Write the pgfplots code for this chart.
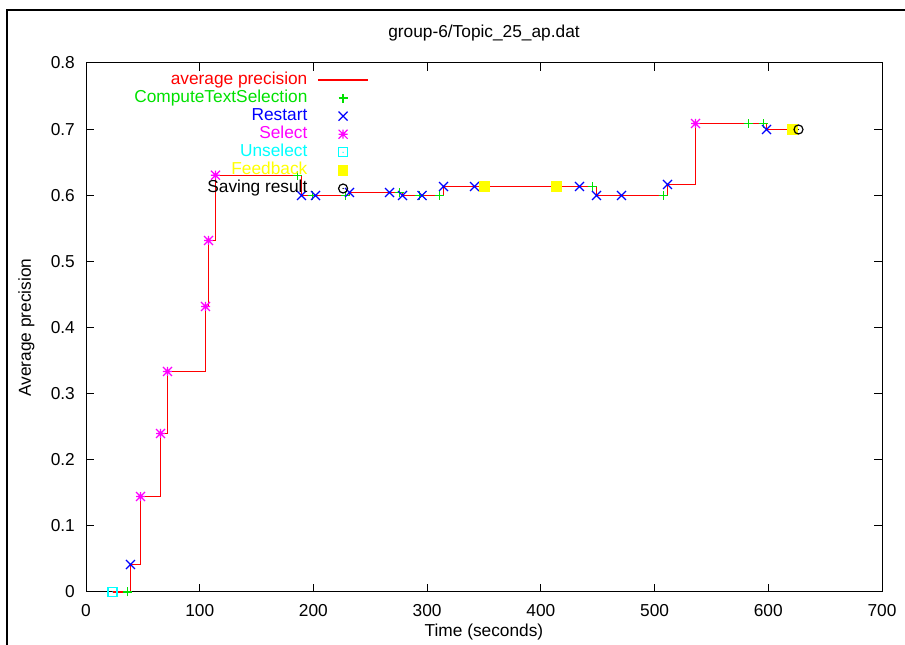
\documentclass[border=0pt]{standalone}
\usepackage{fontspec}
\setmainfont{Liberation Sans}
\usepackage{pgfplots}
\usepackage{pgfplotstable}
\pgfplotsset{compat=1.18}

\definecolor{cRed}{RGB}{255,0,0}
\definecolor{cGreen}{RGB}{0,225,0}
\definecolor{cBlue}{RGB}{0,0,255}
\definecolor{cMag}{RGB}{255,0,255}
\definecolor{cCyan}{RGB}{0,255,255}
\definecolor{cYellow}{RGB}{255,255,0}

\pgfdeclareplotmark{gpstar}{%
  \pgfpathmoveto{\pgfqpoint{-\pgfplotmarksize}{0pt}}\pgfpathlineto{\pgfqpoint{\pgfplotmarksize}{0pt}}%
  \pgfpathmoveto{\pgfqpoint{0pt}{-\pgfplotmarksize}}\pgfpathlineto{\pgfqpoint{0pt}{\pgfplotmarksize}}%
  \pgfpathmoveto{\pgfqpoint{-\pgfplotmarksize}{-\pgfplotmarksize}}\pgfpathlineto{\pgfqpoint{\pgfplotmarksize}{\pgfplotmarksize}}%
  \pgfpathmoveto{\pgfqpoint{-\pgfplotmarksize}{\pgfplotmarksize}}\pgfpathlineto{\pgfqpoint{\pgfplotmarksize}{-\pgfplotmarksize}}%
  \pgfusepathqstroke}
\pgfdeclareplotmark{gpplus}{%
  \pgfpathmoveto{\pgfqpoint{-\pgfplotmarksize}{0pt}}\pgfpathlineto{\pgfqpoint{\pgfplotmarksize}{0pt}}%
  \pgfpathmoveto{\pgfqpoint{0pt}{-\pgfplotmarksize}}\pgfpathlineto{\pgfqpoint{0pt}{\pgfplotmarksize}}%
  \pgfusepathqstroke}
\pgfdeclareplotmark{gpcross}{%
  \pgfpathmoveto{\pgfqpoint{-\pgfplotmarksize}{-\pgfplotmarksize}}\pgfpathlineto{\pgfqpoint{\pgfplotmarksize}{\pgfplotmarksize}}%
  \pgfpathmoveto{\pgfqpoint{-\pgfplotmarksize}{\pgfplotmarksize}}\pgfpathlineto{\pgfqpoint{\pgfplotmarksize}{-\pgfplotmarksize}}%
  \pgfusepathqstroke}
\pgfdeclareplotmark{squaredot}{%
  \pgfpathrectangle{\pgfqpoint{-\pgfplotmarksize}{-\pgfplotmarksize}}{\pgfqpoint{2\pgfplotmarksize}{2\pgfplotmarksize}}%
  \pgfusepathqstroke
  \pgfpathcircle{\pgfpointorigin}{0.7pt}\pgfusepathqfill}
\pgfdeclareplotmark{circledot}{%
  \pgfpathcircle{\pgfpointorigin}{\pgfplotmarksize}\pgfusepathqstroke
  \pgfpathcircle{\pgfpointorigin}{0.7pt}\pgfusepathqfill}

\pgfplotsset{
  mk/.style={only marks, mark size=4.5bp,
   mark options={line width=1.2bp, solid},
   legend image code/.code={\draw[##1] plot coordinates {(25bp,0bp)};}},
  lineleg/.style={legend image code/.code={\draw[##1] (0bp,0bp) -- (50bp,0bp);}}
}

\pgfplotstableread{
t ap
23.31 0
36.50 0
39.13 0.04159
47.93 0.14442
65.52 0.23970
71.67 0.33346
105.09 0.43176
107.73 0.53157
113.88 0.63025
185.99 0.63025
189.51 0.59962
199.18 0.59962
201.83 0.59962
228.20 0.59962
231.72 0.60416
266.90 0.60416
275.69 0.60416
278.33 0.59962
293.28 0.59962
295.48 0.59962
310.87 0.59962
314.39 0.61323
341.65 0.61323
350.44 0.61323
413.76 0.61323
433.98 0.61323
445.41 0.61323
448.93 0.59962
470.91 0.59962
507.85 0.59962
511.37 0.61626
536.00 0.70851
582.59 0.70851
595.79 0.70851
598.44 0.69943
621.29 0.69943
626.57 0.69943
}\tabAP

\pgfplotstableread{
t ap
36.50 0
185.99 0.63025
199.18 0.59962
228.20 0.59962
275.69 0.60416
293.28 0.59962
310.87 0.59962
445.41 0.61323
507.85 0.59962
582.59 0.70851
595.79 0.70851
}\tabCTS

\pgfplotstableread{
t ap
39.13 0.04159
189.51 0.59962
201.83 0.59962
231.72 0.60416
266.90 0.60416
278.33 0.59962
295.48 0.59962
314.39 0.61323
341.65 0.61323
433.98 0.61323
448.93 0.59962
470.91 0.59962
511.37 0.61626
598.44 0.69943
}\tabRS

\pgfplotstableread{
t ap
47.93 0.14442
65.52 0.23970
71.67 0.33346
105.09 0.43176
107.73 0.53157
113.88 0.63025
536.00 0.70851
}\tabSel

\pgfplotstableread{
t ap
23.31 0
}\tabUns

\pgfplotstableread{
t ap
350.44 0.61323
413.76 0.61323
621.29 0.69943
}\tabFB

\pgfplotstableread{
t ap
626.57 0.69943
}\tabSave

\begin{document}
\begin{tikzpicture}
\begin{axis}[
  at={(86bp,53bp)}, anchor=south west,
  scale only axis, width=796bp, height=529bp,
  xmin=0, xmax=700, ymin=0, ymax=0.8,
  xtick={0,100,200,300,400,500,600,700},
  ytick={0,0.1,0.2,0.3,0.4,0.5,0.6,0.7,0.8},
  tick align=inside, major tick length=8bp,
  axis line style={line width=1bp},
  every tick/.style={black, line width=1bp},
  clip=false,
  font=\fontsize{17.3bp}{20bp}\selectfont,
  /pgf/number format/assume math mode=true,
  yticklabel style={/pgf/number format/fixed, /pgf/number format/precision=1,
     anchor=east, inner sep=0pt, xshift=-11bp},
  xticklabel style={anchor=base, inner sep=0pt, yshift=-25bp},
  title={group-6/Topic\_25\_ap.dat},
  title style={at={(axis description cs:0.5,1.0378)}, anchor=base, inner sep=0pt},
  xlabel={Time (seconds)},
  xlabel style={at={(axis description cs:0.5,-0.0832)}, anchor=base, inner sep=0pt},
  ylabel={Average precision},
  ylabel style={at={(axis description cs:-0.0691,0.5)}, anchor=base, inner sep=0pt},
  legend plot pos=right,
  legend cell align=right,
  legend style={at={(axis description cs:0.3555,0.984)}, anchor=north east,
     draw=none, fill=none, inner sep=0pt, row sep=1.6bp, column sep=10bp,
     nodes={inner sep=0pt, text height=12.5bp, text depth=4bp},
     font=\fontsize{17.3bp}{20bp}\selectfont},
]
\addplot[color=cRed, line width=1.4bp, const plot, mark=none, lineleg]
  table[x=t,y=ap]{\tabAP};
\addlegendentry{\textcolor{cRed}{average precision}}
\addplot[mk, color=cGreen, mark=gpplus] table[x=t,y=ap]{\tabCTS};
\addlegendentry{\textcolor{cGreen}{ComputeTextSelection}}
\addplot[mk, color=cBlue, mark=gpcross] table[x=t,y=ap]{\tabRS};
\addlegendentry{\textcolor{cBlue}{Restart}}
\addplot[mk, color=cMag, mark=gpstar] table[x=t,y=ap]{\tabSel};
\addlegendentry{\textcolor{cMag}{Select}}
\addplot[mk, color=cCyan, mark=squaredot] table[x=t,y=ap]{\tabUns};
\addlegendentry{\textcolor{cCyan}{Unselect}}
\addplot[mk, color=cYellow, mark=square*] table[x=t,y=ap]{\tabFB};
\addlegendentry{\textcolor{cYellow}{Feedback}}
\addplot[mk, color=black, mark=circledot] table[x=t,y=ap]{\tabSave};
\addlegendentry{\textcolor{black}{Saving result}}
\end{axis}
\draw[line width=1.5bp] (7bp,0bp) -- (7bp,635bp) -- (905bp,635bp);
\pgfresetboundingbox
\useasboundingbox (0,0) rectangle (905bp,645bp);
\end{tikzpicture}
\end{document}
